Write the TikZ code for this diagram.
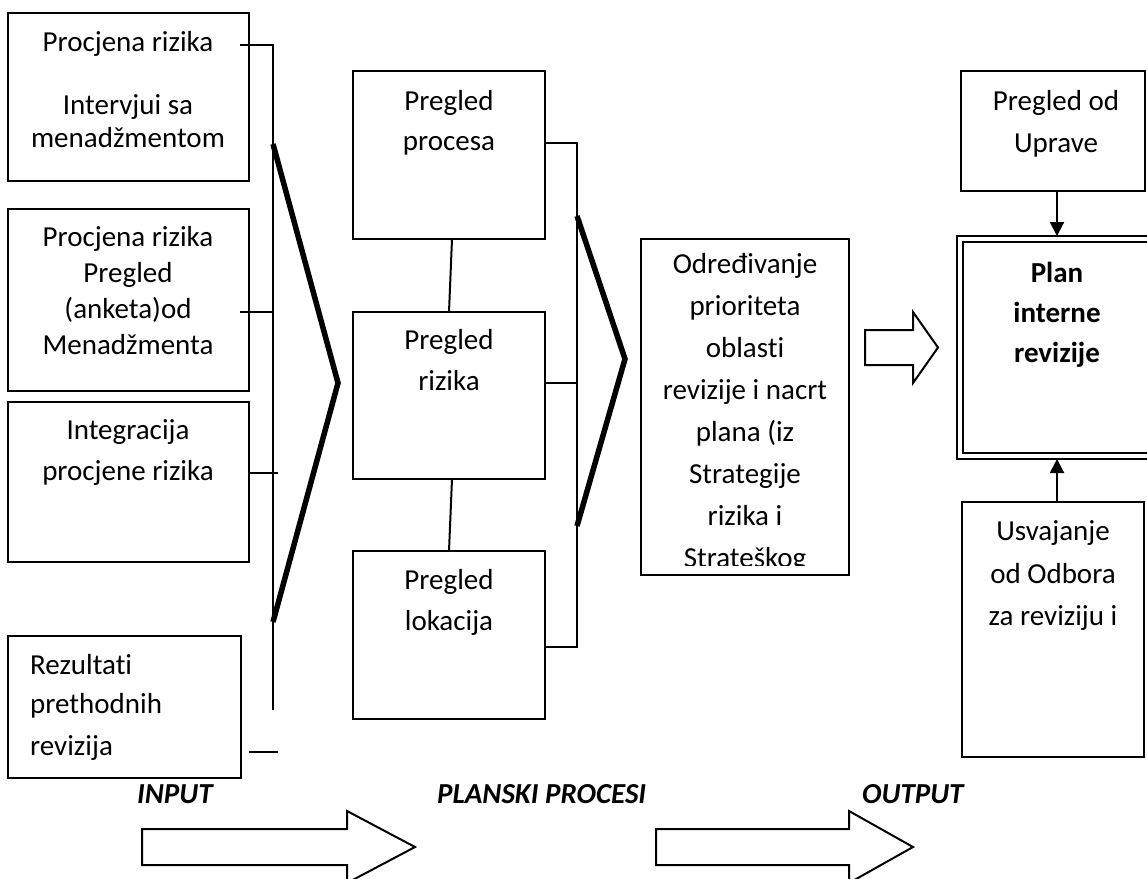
\documentclass[tikz,border=0pt]{standalone}
\usepackage{fontspec}
\setmainfont{Carlito}[Ligatures=NoCommon]
\usetikzlibrary{arrows.meta}
\begin{document}
\begin{tikzpicture}[x=1pt,y=-1pt,
  box/.style={draw, line width=2pt, inner sep=0pt, outer sep=0pt, anchor=north west},
  ln/.style={line width=2pt},
  heavy/.style={line width=5.5pt, line join=miter},
  txt/.style={font=\fontsize{29}{35}\selectfont, inner sep=0pt, anchor=base},
  ltxt/.style={font=\fontsize{29}{35}\selectfont, inner sep=0pt, anchor=base west},
  btxt/.style={font=\fontsize{29}{35}\selectfont\bfseries, inner sep=0pt, anchor=base},
  lbl/.style={font=\fontsize{29}{35}\selectfont\bfseries\itshape, inner sep=0pt, anchor=base west},
  arr/.style={line width=2pt, -{Triangle[length=14pt,width=14pt]}},
  hollow/.style={line width=2pt, line join=miter}
]
\clip (0,0) rectangle (1147,878);
\fill[white] (0,0) rectangle (1147,878);

% ---- left input boxes
\node[box, minimum width=241pt, minimum height=168pt] (b1) at (8,13) {};
\node[box, minimum width=241pt, minimum height=182pt] (b2) at (8,209) {};
\node[box, minimum width=241pt, minimum height=160pt] (b3) at (8,402) {};
\node[box, minimum width=233pt, minimum height=142pt] (b4) at (8,636) {};

\foreach \t/\y [count=\i] in {Procjena rizika/51, Intervjui sa/114, menadžmentom/147}
  \node[txt] (ta\i) at (128,\y) {\t};
\foreach \t/\y [count=\i] in {Procjena rizika/246, Pregled/282, {(anketa)od}/318, Menadžmenta/354}
  \node[txt] (tb\i) at (128,\y) {\t};
\foreach \t/\y [count=\i] in {Integracija/439, procjene rizika/480}
  \node[txt] (tc\i) at (128,\y) {\t};
\foreach \t/\y [count=\i] in {Rezultati/674, prethodnih/713, revizija/755}
  \node[ltxt] (td\i) at (30,\y) {\t};

% ---- left bus
\coordinate (busT) at (273,45);
\coordinate (busB) at (273,710);
\coordinate (c1) at (240,45);
\coordinate (c2a) at (240,312);
\coordinate (c2b) at (273,312);
\coordinate (c3) at (278,473);
\coordinate (c4) at (278,752);
\draw[ln] (c1) -- (busT) -- (busB);
\draw[ln] (c2a) -- (c2b);
\draw[ln] (b3.east |- c3) -- (c3);
\draw[ln] (b4.east |- c4) ++(8,0) -- (c4);

% ---- first chevron
\coordinate (ch1a) at (273,144);
\coordinate (ch1b) at (338,383);
\coordinate (ch1c) at (273,622);
\draw[heavy] (ch1a) -- (ch1b) -- (ch1c);

% ---- middle process boxes
\node[box, minimum width=192pt, minimum height=168pt] (pp) at (353,71) {};
\node[box, minimum width=192pt, minimum height=167pt] (pr) at (353,312) {};
\node[box, minimum width=192pt, minimum height=168pt] (pl) at (353,551) {};
\node[txt] (pp1) at (449,110) {Pregled};
\node[txt] (pp2) at (449,150) {procesa};
\node[txt] (pr1) at (449,349) {Pregled};
\node[txt] (pr2) at (449,390) {rizika};
\node[txt] (pl1) at (449,589) {Pregled};
\node[txt] (pl2) at (449,630) {lokacija};
\draw[ln] ([xshift=3pt]pp.south) -- (pr.north);
\draw[ln] ([xshift=3pt]pr.south) -- (pl.north);

% ---- middle bus
\coordinate (mT) at (577,143);
\coordinate (mM) at (577,383);
\coordinate (mB) at (577,647);
\draw[ln] (pp.east |- mT) -- (mT) -- (mB) -- (pl.east |- mB);
\draw[ln] (pr.east |- mM) -- (mM);

% ---- second chevron
\coordinate (ch2a) at (577,216);
\coordinate (ch2b) at (625,359);
\coordinate (ch2c) at (577,526);
\draw[heavy] (ch2a) -- (ch2b) -- (ch2c);

% ---- priority box (text clipped by box)
\begin{scope}
\clip (641,239) rectangle (849,565);
\foreach \t/\y [count=\i] in {Određivanje/273, prioriteta/315, oblasti/357, revizije i nacrt/399, {plana (iz}/441, Strategije/483, rizika i/525, Strateškog/567}
  \node[txt] (od\i) at (745,\y) {\t};
\end{scope}
\node[box, minimum width=208pt, minimum height=336pt] (odr) at (641,239) {};

% ---- hollow arrow to output
\draw[hollow] (865,330) -- (913,330) -- (913,312) -- (938,347.5) -- (913,383) -- (913,365) -- (865,365) -- cycle;

% ---- output column
\node[box, minimum width=184pt, minimum height=120pt] (upr) at (961,71) {};
\node[txt] (upr1) at (1056,110) {Pregled od};
\node[txt] (upr2) at (1056,152) {Uprave};

\node[draw, double, line width=2pt, double distance=3.5pt, inner sep=0pt, outer sep=0pt,
      anchor=north west, minimum width=260pt, minimum height=217pt] (plan) at (960,239) {};
\node[btxt] (pl1t) at (1057,282) {Plan};
\node[btxt] (pl2t) at (1057,322) {interne};
\node[btxt] (pl3t) at (1057,362) {revizije};

\node[box, minimum width=182pt, minimum height=255pt] (usv) at (962,502) {};
\node[txt] (usv1) at (1053,540) {Usvajanje};
\node[txt] (usv2) at (1053,583) {od Odbora};
\node[txt] (usv3) at (1053,625) {za reviziju i};

\coordinate (ax) at (1057,0);
\draw[arr, shorten >=3pt] (upr.south -| ax) -- (plan.north -| ax);
\draw[arr, shorten >=3pt] (usv.north -| ax) -- (plan.south -| ax);

% ---- bottom labels and arrows
\node[lbl] (lin) at (137,803) {INPUT};
\node[lbl] (lpp) at (437,803) {PLANSKI PROCESI};
\node[lbl] (lout) at (862,803) {OUTPUT};

\draw[hollow] (142,829) -- (347,829) -- (347,811) -- (415,847) -- (347,883) -- (347,865) -- (142,865) -- cycle;
\draw[hollow] (656,829) -- (849,829) -- (849,811) -- (913,847) -- (849,883) -- (849,865) -- (656,865) -- cycle;
\end{tikzpicture}
\end{document}
